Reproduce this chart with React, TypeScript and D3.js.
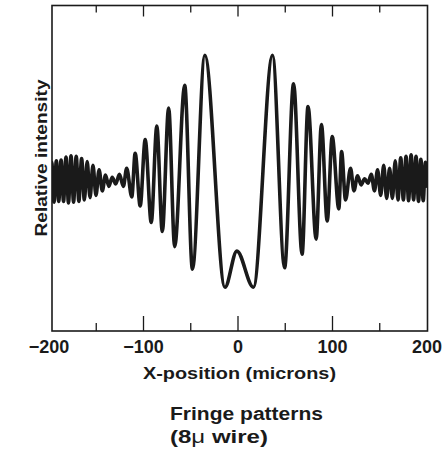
import React from 'react';
import * as d3 from 'd3';

// fringe extrema (x in microns, relative intensity)
const positions = [
  -200.0, -197.1, -194.7, -192.2, -189.7, -187.2, -184.6, -182.0, -179.4, -176.7,
  -174.0, -171.2, -168.4, -165.5, -162.6, -159.6, -156.6, -153.5, -150.3, -147.0,
  -143.6, -140.2, -136.7, -133.1, -129.4, -125.5, -121.3, -117.8, -112.4, -108.8,
  -103.5, -98.2, -91.8, -85.9, -80.1, -73.4, -67.0, -56.4, -48.2, -35.1,
  -13.8, -1.2, 16.3, 36.5, 49.3, 58.8, 67.8, 74.1, 82.7, 88.3,
  94.4, 99.7, 106.7, 109.6, 113.8, 119.1, 122.7, 126.5, 130.3, 134.0,
  137.5, 141.0, 144.4, 147.7, 151.0, 154.2, 157.3, 160.4, 163.4, 166.4,
  169.3, 172.2, 175.0, 177.8, 180.5, 183.2, 185.8, 188.4, 191.0, 193.5,
  196.0, 198.4, 200.0,
];

const intensity = [
  0.87, 1.12, 0.855, 1.13, 0.86, 1.135, 0.86, 1.155, 0.85, 1.162,
  0.855, 1.16, 0.86, 1.145, 0.87, 1.125, 0.885, 1.1, 0.9, 1.07,
  0.93, 1.035, 0.96, 1.02, 0.975, 1.04, 0.96, 1.08, 0.89, 1.18,
  0.83, 1.27, 0.72, 1.36, 0.66, 1.48, 0.56, 1.63, 0.41, 1.83,
  0.29, 0.53, 0.29, 1.83, 0.42, 1.64, 0.51, 1.49, 0.61, 1.37,
  0.73, 1.29, 0.81, 1.19, 0.87, 1.08, 0.93, 1.03, 0.97, 1.01,
  0.98, 1.04, 0.93, 1.07, 0.9, 1.1, 0.88, 1.08, 0.88, 1.13,
  0.87, 1.15, 0.87, 1.16, 0.865, 1.17, 0.87, 1.16, 0.86, 1.14,
  0.865, 1.12, 0.95,
];

const labelTicks = [-200, -100, 0, 100, 200];
const majorTicks = [-100, 0, 100];
const minorTicks = [-150, -50, 50, 150];

const W = 447;
const H = 456;
const box = { left: 52, right: 427.5, top: 5.5, bottom: 331 };
const font = '"Liberation Sans", Arial, Helvetica, sans-serif';
const ink = '#1a1a1a';

export default function App() {
  const x = d3.scaleLinear().domain([-200, 200]).range([49, 427]);
  const y = d3.scaleLinear().domain([0, 2.16]).range([box.bottom, box.top]);

  const pts = positions.map((p, i) => [p, intensity[i]] as [number, number]);
  const line = d3
    .line<[number, number]>()
    .x((d) => x(d[0]))
    .y((d) => y(d[1]))
    .curve(d3.curveMonotoneX);

  const fmt = (v: number) => (v < 0 ? '\u2212' + Math.abs(v) : String(v));

  return (
    <svg width={W} height={H} style={{ position: 'absolute', left: 0, top: 0, background: '#fff' }}>
      <defs>
        <clipPath id="plot">
          <rect x={box.left} y={0} width={box.right - box.left} height={box.bottom + 2} />
        </clipPath>
      </defs>

      <path
        d={line(pts) ?? ''}
        fill="none"
        stroke={ink}
        strokeWidth={3.6}
        strokeLinejoin="round"
        clipPath="url(#plot)"
      />

      <rect
        x={box.left}
        y={box.top}
        width={box.right - box.left}
        height={box.bottom - box.top}
        fill="none"
        stroke={ink}
        strokeWidth={1.6}
      />

      {majorTicks.map((t) => (
        <g key={'M' + t} stroke={ink} strokeWidth={1.3}>
          <line x1={x(t)} x2={x(t)} y1={box.bottom} y2={box.bottom - 15} />
          <line x1={x(t)} x2={x(t)} y1={box.top} y2={box.top + 11} />
        </g>
      ))}
      {minorTicks.map((t) => (
        <g key={'m' + t} stroke={ink} strokeWidth={1.3}>
          <line x1={x(t)} x2={x(t)} y1={box.bottom} y2={box.bottom - 8} />
          <line x1={x(t)} x2={x(t)} y1={box.top} y2={box.top + 7} />
        </g>
      ))}

      {labelTicks.map((t) => (
        <text
          key={'l' + t}
          x={x(t)}
          y={353}
          textAnchor="middle"
          fontFamily={font}
          fontWeight="bold"
          fontSize={18}
          fill={ink}
        >
          {fmt(t)}
        </text>
      ))}

      <text
        x={143}
        y={378.5}
        textLength={193}
        lengthAdjust="spacingAndGlyphs"
        fontFamily={font}
        fontWeight="bold"
        fontSize={16.5}
        fill={ink}
      >
        X-position (microns)
      </text>

      <text
        transform="translate(47,236.5) rotate(-90)"
        textLength={157}
        lengthAdjust="spacingAndGlyphs"
        fontFamily={font}
        fontWeight="bold"
        fontSize={16.5}
        fill={ink}
      >
        Relative intensity
      </text>

      <text
        x={170}
        y={420}
        textLength={153}
        lengthAdjust="spacingAndGlyphs"
        fontFamily={font}
        fontWeight="bold"
        fontSize={18}
        fill={ink}
      >
        Fringe patterns
      </text>
      <text
        x={170}
        y={443}
        textLength={98}
        lengthAdjust="spacingAndGlyphs"
        fontFamily={font}
        fontWeight="bold"
        fontSize={18}
        fill={ink}
      >
        (8<tspan fontWeight="normal">μ</tspan> wire)
      </text>
    </svg>
  );
}
